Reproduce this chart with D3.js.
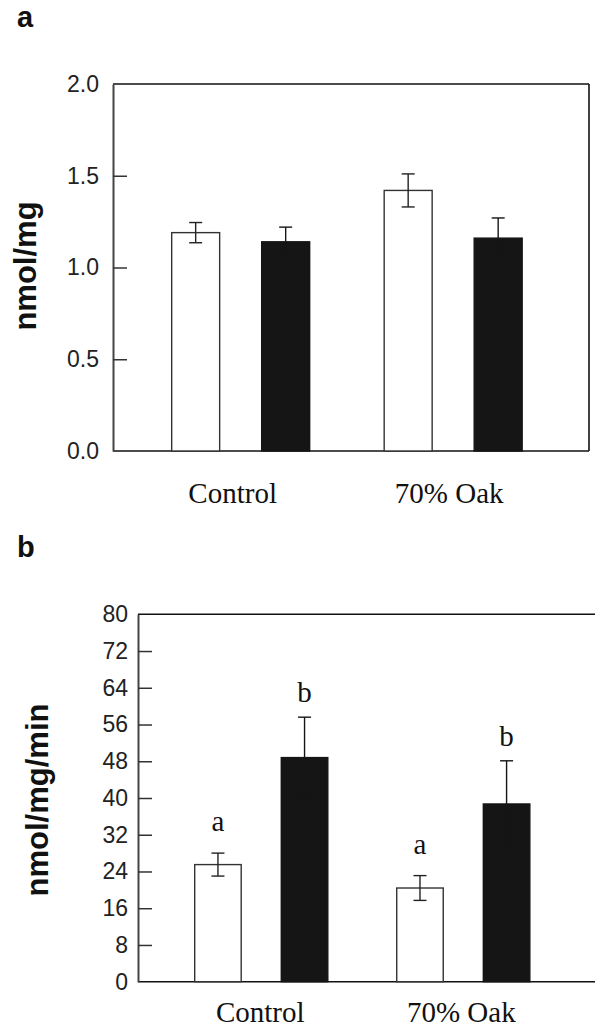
<!DOCTYPE html>
<html>
<head>
<meta charset="utf-8">
<script src="https://cdn.jsdelivr.net/npm/d3@7"></script>
<style>
  html, body { margin: 0; padding: 0; background: #fff; }
  svg { display: block; }
</style>
</head>
<body>
<svg id="chart" width="595" height="1027"></svg>
<script>
// ---------- data ----------
const categories = ["Control", "70% Oak"];
const series = ["open", "filled"];

// panel a (nmol/mg)
const aValues = [[1.19, 1.14], [1.42, 1.16]];
const aErrors = [[0.055, 0.08], [0.09, 0.11]];
const aTicks = [0, 0.5, 1.0, 1.5, 2.0];

// panel b (nmol/mg/min)
const bValues = [[25.5, 48.8], [20.4, 38.7]];
const bErrors = [[2.5, 8.8], [2.7, 9.4]];
const bTicks = [0, 8, 16, 24, 32, 40, 48, 56, 64, 72, 80];
const bLetters = [["a", "b"], ["a", "b"]];

const svg = d3.select("#chart");
const sans = "Liberation Sans, Arial, sans-serif";
const serif = "Liberation Serif, Times New Roman, serif";
const fillColor = { open: "#ffffff", filled: "#151515" };

function panel(opt) {
  const { left, right, top, bottom, domain, ticks, values, errors, fmt,
          barPadInner, barPadOuter, boxed, letters, ylabel, ylabelX,
          ylabelY, labelGap, catBaseline, tag, tagY } = opt;
  const g = svg.append("g");
  const y = d3.scaleLinear().domain(domain).range([bottom, top]);
  const x0 = d3.scaleBand().domain(categories).range([left, right])
    .paddingInner(0).paddingOuter(opt.groupPadOuter).align(0.42);
  const x1 = d3.scaleBand().domain(series).range([0, x0.bandwidth()])
    .paddingInner(barPadInner).paddingOuter(barPadOuter);

  // frame
  g.append("line").attr("x1", left).attr("x2", right).attr("y1", top).attr("y2", top)
    .attr("stroke", "#111").attr("stroke-width", 1.6);
  g.append("line").attr("x1", left).attr("x2", right).attr("y1", bottom).attr("y2", bottom)
    .attr("stroke", "#111").attr("stroke-width", 1.6);
  if (boxed) {
    g.append("line").attr("x1", right).attr("x2", right).attr("y1", top).attr("y2", bottom)
      .attr("stroke", "#111").attr("stroke-width", 1.6);
  }

  // y axis
  const axis = d3.axisLeft(y).tickValues(ticks).tickFormat(fmt).tickSizeInner(-14).tickSizeOuter(0).tickPadding(opt.tickPad);
  const ag = g.append("g").attr("transform", `translate(${left},0)`).call(axis);
  ag.select(".domain").attr("stroke", "#444").attr("stroke-width", 2);
  ag.selectAll(".tick line").attr("stroke", "#333").attr("stroke-width", 1.5)
    .attr("display", d => (d === domain[0] || d === domain[1]) ? "none" : null);
  ag.selectAll(".tick text").attr("font-family", sans).attr("font-size", 23).attr("fill", "#222");

  // bars
  categories.forEach((c, i) => {
    series.forEach((s, j) => {
      const v = values[i][j], e = errors[i][j];
      const bx = x0(c) + x1(s);
      const cx = bx + x1.bandwidth() / 2;
      g.append("rect")
        .attr("x", bx).attr("y", y(v))
        .attr("width", x1.bandwidth()).attr("height", y(0) - y(v))
        .attr("fill", fillColor[s])
        .attr("stroke", s === "open" ? "#333" : "#151515")
        .attr("stroke-width", 1.4);
      // error bar
      const eb = g.append("g").attr("stroke", s === "open" ? "#222" : "#151515").attr("stroke-width", 1.4);
      eb.append("line").attr("x1", cx).attr("x2", cx).attr("y1", y(v - e)).attr("y2", y(v + e));
      eb.append("line").attr("x1", cx - 6.5).attr("x2", cx + 6.5).attr("y1", y(v + e)).attr("y2", y(v + e));
      eb.append("line").attr("x1", cx - 6.5).attr("x2", cx + 6.5).attr("y1", y(v - e)).attr("y2", y(v - e));
      if (letters) {
        const L = letters[i][j];
        g.append("text").attr("x", cx).attr("y", y(v + e) - labelGap[L])
          .attr("text-anchor", "middle").attr("font-family", serif)
          .attr("font-size", 29).attr("fill", "#111").text(L);
      }
    });
    g.append("text").attr("x", x0(c) + x0.bandwidth() / 2 + (opt.catShift ? opt.catShift[i] : 0))
      .attr("y", catBaseline).attr("text-anchor", "middle")
      .attr("font-family", serif).attr("font-size", 29).attr("fill", "#111").text(c);
  });

  // y label
  g.append("text").attr("transform", `translate(${ylabelX},${ylabelY}) rotate(-90)`)
    .attr("text-anchor", "middle").attr("font-family", sans).attr("font-weight", "bold")
    .attr("font-size", 31).attr("fill", "#111").text(ylabel);

  // panel tag
  svg.append("text").attr("x", 17).attr("y", tagY).attr("font-family", sans)
    .attr("font-weight", "bold").attr("font-size", 29).attr("fill", "#111").text(tag);
}

panel({
  left: 113, right: 589, top: 84, bottom: 451, domain: [0, 2], ticks: aTicks,
  values: aValues, errors: aErrors, fmt: d3.format(".1f"),
  groupPadOuter: 0.12, barPadInner: 0.467, barPadOuter: 0.414,
  boxed: true, letters: null, ylabel: "nmol/mg", ylabelX: 36, ylabelY: 266,
  catBaseline: 503, tag: "a", tagY: 27, tickPad: 14, catShift: [-8, -4]
});

panel({
  left: 138, right: 595, top: 614.3, bottom: 981.7, domain: [0, 80], ticks: bTicks,
  values: bValues, errors: bErrors, fmt: d3.format("d"),
  groupPadOuter: 0.131, barPadInner: 0.463, barPadOuter: 0.398,
  boxed: false, letters: bLetters, labelGap: { a: 22, b: 15 },
  ylabel: "nmol/mg/min", ylabelX: 48, ylabelY: 800,
  catBaseline: 1021.5, tag: "b", tagY: 557, tickPad: 10, catShift: [-1, -2]
});
</script>
</body>
</html>
